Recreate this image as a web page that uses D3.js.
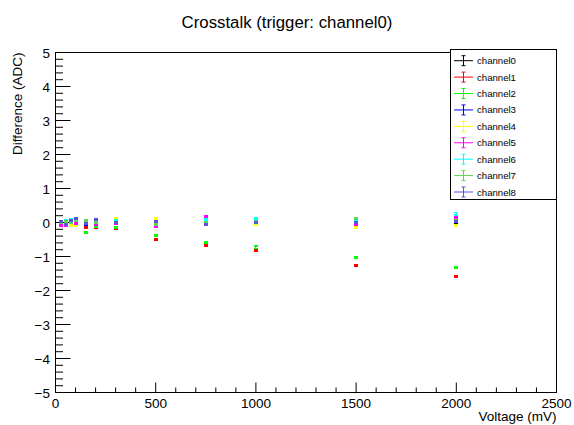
<!DOCTYPE html>
<html>
<head>
<meta charset="utf-8">
<script src="https://cdn.jsdelivr.net/npm/d3@7"></script>
<style>
  html, body { margin: 0; padding: 0; background: #fff; }
  svg { display: block; font-family: "Liberation Sans", Arial, Helvetica, sans-serif; }
</style>
</head>
<body>
<svg id="chart" width="574" height="425"></svg>
<script>
const voltages = [25, 50, 75, 100, 150, 200, 300, 500, 750, 1000, 1500, 2000];
const channelNames = ["channel0","channel1","channel2","channel3","channel4","channel5","channel6","channel7","channel8"];
const channelColors = ["#000000","#ff0000","#00ff00","#0000ff","#ffff00","#ff00ff","#00ffff","#59d454","#5954d9"];
const ch0 = [0, 0, 0, 0, 0, 0, 0, 0, 0, 0, 0, 0];
const ch1 = [-0.02, 0.05, 0.02, 0.01, -0.15, -0.15, -0.19, -0.51, -0.68, -0.81, -1.26, -1.60];
const ch2 = [-0.05, -0.08, -0.05, -0.02, -0.28, -0.12, -0.16, -0.39, -0.59, -0.72, -1.03, -1.31];
const ch3 = [0.00, -0.02, 0.05, 0.10, -0.05, 0.10, 0.02, 0.05, 0.01, 0.03, 0.05, 0.13];
const ch4 = [-0.04, -0.05, -0.08, -0.08, 0.00, 0.03, 0.12, 0.13, -0.05, -0.06, -0.16, -0.10];
const ch5 = [-0.08, -0.10, 0.00, -0.03, -0.02, -0.05, -0.03, -0.13, 0.17, 0.00, -0.06, 0.16];
const ch6 = [0.02, 0.05, 0.08, 0.10, 0.00, 0.05, 0.05, 0.00, 0.09, 0.11, 0.08, 0.25];
const ch7 = [0.00, 0.03, 0.00, 0.06, 0.07, 0.00, 0.00, -0.05, 0.00, 0.02, 0.11, 0.05];
const ch8 = [0.04, -0.06, 0.06, 0.12, -0.02, 0.08, 0.00, 0.02, -0.07, 0.00, 0.00, 0.02];
const seriesValues = [ch0, ch1, ch2, ch3, ch4, ch5, ch6, ch7, ch8];
const errorSize = 0.03;
const xTicks = [0, 500, 1000, 1500, 2000, 2500];
const yTicks = [-5, -4, -3, -2, -1, 0, 1, 2, 3, 4, 5];
const titleText = "Crosstalk (trigger: channel0)";
const xLabel = "Voltage (mV)";
const yLabel = "Difference (ADC)";

const svg = d3.select("#chart");
const L = 55.5, R = 556.5, T = 52.5, B = 392.5;
const x = d3.scaleLinear().domain([0, 2500]).range([L, R]);
const y = d3.scaleLinear().domain([-5, 5]).range([B, T]);

// frame
svg.append("rect").attr("x", L).attr("y", T).attr("width", R - L).attr("height", B - T)
  .attr("fill", "none").attr("stroke", "#000").attr("stroke-width", 1);

// x ticks (major + minor), drawn upward
const xMinor = d3.range(0, 2501, 100);
svg.append("g").selectAll("line").data(xMinor).join("line")
  .attr("x1", d => x(d)).attr("x2", d => x(d))
  .attr("y1", B).attr("y2", d => B - (d % 500 === 0 ? 10 : 5))
  .attr("stroke", "#000").attr("stroke-width", 1);
svg.append("g").selectAll("text").data(xTicks).join("text")
  .attr("x", d => x(d)).attr("y", 408).attr("text-anchor", "middle")
  .attr("font-size", 13.5).text(d => d);

// y ticks
const yMinor = d3.range(-50, 51, 2).map(v => v / 10);
svg.append("g").selectAll("line").data(yMinor).join("line")
  .attr("x1", L).attr("x2", d => L + (Math.abs(d - Math.round(d)) < 1e-9 ? 15 : 7.5))
  .attr("y1", d => y(d)).attr("y2", d => y(d))
  .attr("stroke", "#000").attr("stroke-width", 1);
svg.append("g").selectAll("text").data(yTicks).join("text")
  .attr("x", 50).attr("y", d => y(d) + 5).attr("text-anchor", "end")
  .attr("font-size", 13.5).text(d => d < 0 ? "\u2212" + Math.abs(d) : d);

// title & labels
svg.append("text").attr("x", 287).attr("y", 28).attr("text-anchor", "middle")
  .attr("font-size", 16.8).text(titleText);
svg.append("text").attr("x", R).attr("y", 421).attr("text-anchor", "end")
  .attr("font-size", 13.5).text(xLabel);
svg.append("text").attr("transform", `translate(22,${T}) rotate(-90)`)
  .attr("text-anchor", "end").attr("font-size", 13.5).text(yLabel);

// data error bars
const cap = 2;
seriesValues.forEach((vals, i) => {
  const g = svg.append("g").attr("stroke", channelColors[i]).attr("stroke-width", 1)
    .attr("shape-rendering", "crispEdges");
  const pts = voltages.map((v, k) => ({ v, val: vals[k] }));
  g.selectAll("line.v").data(pts).join("line").attr("class", "v")
    .attr("x1", d => x(d.v)).attr("x2", d => x(d.v))
    .attr("y1", d => y(d.val + errorSize)).attr("y2", d => y(d.val - errorSize));
  g.selectAll("line.t").data(pts).join("line").attr("class", "t")
    .attr("x1", d => x(d.v) - cap).attr("x2", d => x(d.v) + cap)
    .attr("y1", d => y(d.val + errorSize)).attr("y2", d => y(d.val + errorSize));
  g.selectAll("line.b").data(pts).join("line").attr("class", "b")
    .attr("x1", d => x(d.v) - cap).attr("x2", d => x(d.v) + cap)
    .attr("y1", d => y(d.val - errorSize)).attr("y2", d => y(d.val - errorSize));
  g.selectAll("line.m").data(pts).join("line").attr("class", "m")
    .attr("x1", d => x(d.v) - cap).attr("x2", d => x(d.v) + cap)
    .attr("y1", d => y(d.val)).attr("y2", d => y(d.val));
});

// legend
const lg = svg.append("g");
lg.append("rect").attr("x", 450.5).attr("y", 49.5).attr("width", 106).attr("height", 150)
  .attr("fill", "#fff").attr("stroke", "#000").attr("stroke-width", 1);
const rowY = d3.scaleLinear().domain([0, 8]).range([60.7, 192]);
channelNames.forEach((name, i) => {
  const cy = rowY(i);
  const row = lg.append("g").attr("stroke", channelColors[i]).attr("stroke-width", 1);
  row.append("line").attr("x1", 454).attr("x2", 473).attr("y1", cy).attr("y2", cy);
  row.append("line").attr("x1", 463.5).attr("x2", 463.5).attr("y1", cy - 5).attr("y2", cy + 5);
  row.append("line").attr("x1", 461.5).attr("x2", 465.5).attr("y1", cy - 5).attr("y2", cy - 5);
  row.append("line").attr("x1", 461.5).attr("x2", 465.5).attr("y1", cy + 5).attr("y2", cy + 5);
  lg.append("text").attr("x", 477).attr("y", cy + 3.5).attr("font-size", 9.6)
    .attr("fill", "#000").text(name);
});
</script>
</body>
</html>
